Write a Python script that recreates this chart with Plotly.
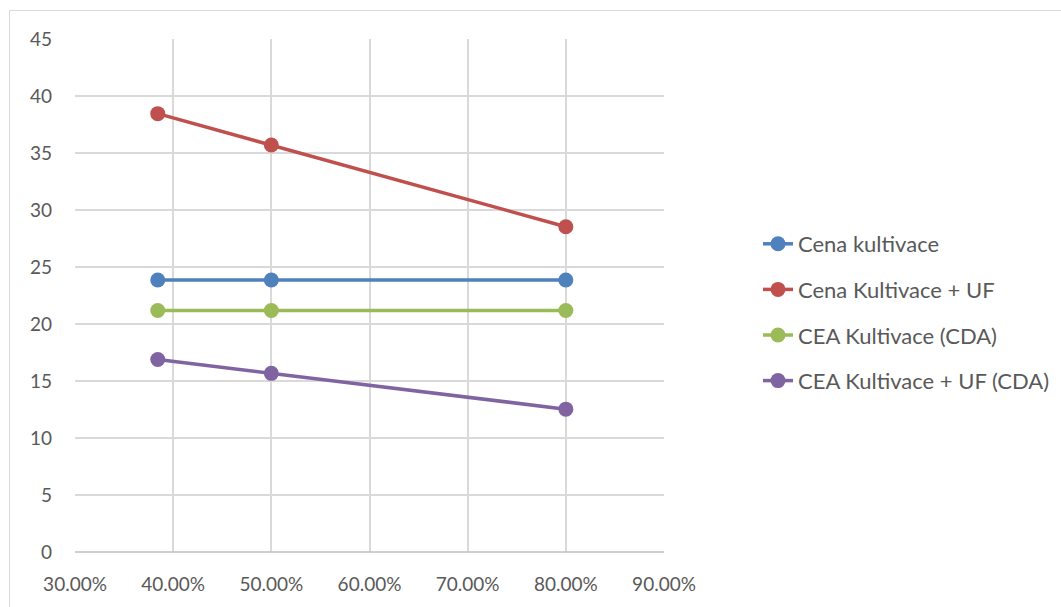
import plotly.graph_objects as go

# Share of product (x axis) and cost values for each scenario
podil = [0.3843, 0.50, 0.80]
cena_kultivace = [23.86, 23.86, 23.86]
cena_kultivace_uf = [38.45, 35.70, 28.53]
cea_kultivace_cda = [21.18, 21.18, 21.18]
cea_kultivace_uf_cda = [16.88, 15.67, 12.53]

series = [
    ("Cena kultivace", cena_kultivace, "#4F81BD"),
    ("Cena Kultivace + UF", cena_kultivace_uf, "#C0504D"),
    ("CEA Kultivace (CDA)", cea_kultivace_cda, "#9BBB59"),
    ("CEA Kultivace + UF (CDA)", cea_kultivace_uf_cda, "#8064A2"),
]

FONT = "Lato, 'Open Sans', sans-serif"
TXT = "#595959"
GRID = "#D9D9D9"

fig = go.Figure()
for i, (name, vals, color) in enumerate(series):
    fig.add_trace(go.Scatter(
        x=podil, y=vals, name=name, mode="lines+markers",
        legendgroup=f"g{i}",
        line=dict(color=color, width=3.5),
        marker=dict(color=color, size=15),
    ))

W, H = 1061, 607
L, R, T, B = 75, 664, 39, 552
pw, ph = R - L, B - T

def px_x(p):
    return (p - L) / pw

def px_y(p):
    return (B - p) / ph

fig.update_layout(
    width=W, height=H,
    margin=dict(l=L, r=W - R, t=T, b=H - B, pad=0, autoexpand=False),
    paper_bgcolor="white", plot_bgcolor="white",
    font=dict(family=FONT, size=19, color=TXT),
    showlegend=True,
    legend=dict(
        x=px_x(758), y=px_y(223), xanchor="left", yanchor="top",
        font=dict(family=FONT, size=22, color=TXT),
        tracegroupgap=14, bgcolor="rgba(0,0,0,0)",
    ),
    xaxis=dict(
        range=[0.3, 0.9], dtick=0.1, tick0=0.3, tickformat=".2%",
        showgrid=True, gridcolor=GRID, gridwidth=1.5,
        zeroline=False, showline=False, ticks="", ticklabelstandoff=19,
        tickfont=dict(family=FONT, size=19, color=TXT),
    ),
    yaxis=dict(
        range=[0, 45], dtick=5, tick0=0,
        showgrid=True, gridcolor=GRID, gridwidth=1.5,
        zeroline=False, showline=False, ticks="", ticklabelstandoff=22,
        tickfont=dict(family=FONT, size=19, color=TXT),
    ),
    shapes=[
        # chart frame
        dict(type="rect", xref="paper", yref="paper",
             x0=px_x(9.5), y0=px_y(640), x1=px_x(1100), y1=px_y(10.5),
             line=dict(color="#D9D9D9", width=1), layer="below"),
        # horizontal category axis line
        dict(type="line", xref="paper", yref="paper",
             x0=0, x1=1, y0=0, y1=0,
             line=dict(color="#BFBFBF", width=1.5)),
    ],
)

fig.write_html("out.html")
